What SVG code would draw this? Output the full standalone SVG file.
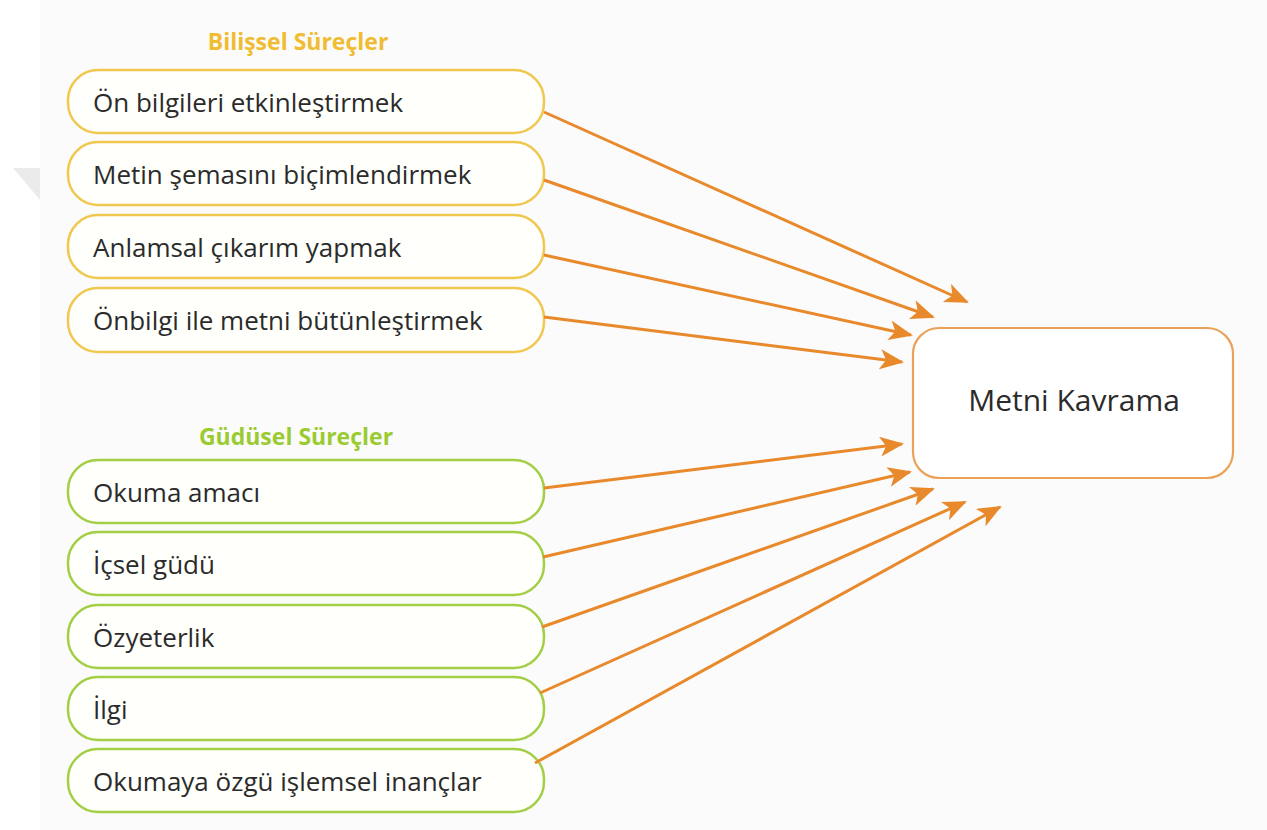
<svg xmlns="http://www.w3.org/2000/svg" width="1267" height="830" viewBox="0 0 1267 830">
<style>
.bg{fill:#fbfbfb}
.yb rect{fill:#fffffb;stroke:#f0c850;stroke-width:2.5}
.gb rect{fill:#fffffb;stroke:#a2cf45;stroke-width:2.5}
.lbl{font-family:"Open Sans","Noto Sans",sans-serif;font-size:26px;fill:#2b2b2b}
.hdr{font-family:"Open Sans","Noto Sans",sans-serif;font-size:23px;font-weight:bold}
.conn line{stroke:#e8892b;stroke-width:3;fill:none}
</style>
<defs>
<marker id="ah" markerUnits="userSpaceOnUse" markerWidth="26" markerHeight="22" refX="22" refY="10" orient="auto" viewBox="0 0 26 22">
<path d="M0,0 L24,10 L0,20 L6,10 z" fill="#e8892b"/>
</marker>
</defs>
<rect x="0" y="0" width="1267" height="830" fill="#ffffff"/>
<rect class="bg" x="40" y="0" width="1227" height="830"/>
<polygon points="13,168 40,168 40,200" fill="#ebebeb"/>

<text id="hdr1" class="hdr" x="298" y="50" text-anchor="middle" fill="#f0bc32">Bilişsel Süreçler</text>
<text id="hdr2" class="hdr" x="296" y="445" text-anchor="middle" fill="#9acb32">Güdüsel Süreçler</text>

<g id="n1" class="yb"><rect x="68" y="70" width="476" height="63" rx="30"/><text class="lbl" x="93" y="112">Ön bilgileri etkinleştirmek</text></g>
<g id="n2" class="yb"><rect x="68" y="142" width="476" height="63" rx="30"/><text class="lbl" x="93" y="184">Metin şemasını biçimlendirmek</text></g>
<g id="n3" class="yb"><rect x="68" y="215" width="476" height="63" rx="30"/><text class="lbl" x="93" y="257">Anlamsal çıkarım yapmak</text></g>
<g id="n4" class="yb"><rect x="68" y="288" width="476" height="64" rx="30"/><text class="lbl" x="93" y="330">Önbilgi ile metni bütünleştirmek</text></g>

<g id="n5" class="gb"><rect x="68" y="460" width="476" height="63" rx="30"/><text class="lbl" x="93" y="502">Okuma amacı</text></g>
<g id="n6" class="gb"><rect x="68" y="532" width="476" height="63" rx="30"/><text class="lbl" x="93" y="574">İçsel güdü</text></g>
<g id="n7" class="gb"><rect x="68" y="605" width="476" height="63" rx="30"/><text class="lbl" x="93" y="647">Özyeterlik</text></g>
<g id="n8" class="gb"><rect x="68" y="677" width="476" height="63" rx="30"/><text class="lbl" x="93" y="719">İlgi</text></g>
<g id="n9" class="gb"><rect x="68" y="749" width="476" height="63" rx="30"/><text class="lbl" x="93" y="791">Okumaya özgü işlemsel inançlar</text></g>

<g id="main"><rect x="913" y="328" width="320" height="150" rx="26" fill="#ffffff" stroke="#eba258" stroke-width="2.2"/><text x="1074" y="411" text-anchor="middle" font-family="'Open Sans','Noto Sans',sans-serif" font-size="30" fill="#2b2b2b">Metni Kavrama</text></g>

<g id="connectors" class="conn">
<line x1="544" y1="112" x2="967" y2="302" marker-end="url(#ah)"/>
<line x1="544" y1="180" x2="933" y2="317" marker-end="url(#ah)"/>
<line x1="544" y1="255" x2="911" y2="335" marker-end="url(#ah)"/>
<line x1="544" y1="317" x2="902" y2="362" marker-end="url(#ah)"/>
<line x1="544" y1="488" x2="902" y2="444" marker-end="url(#ah)"/>
<line x1="543" y1="557" x2="910" y2="472" marker-end="url(#ah)"/>
<line x1="542" y1="627" x2="933" y2="489" marker-end="url(#ah)"/>
<line x1="540" y1="693" x2="965" y2="502" marker-end="url(#ah)"/>
<line x1="535" y1="763" x2="1000" y2="507" marker-end="url(#ah)"/>
</g>
</svg>
